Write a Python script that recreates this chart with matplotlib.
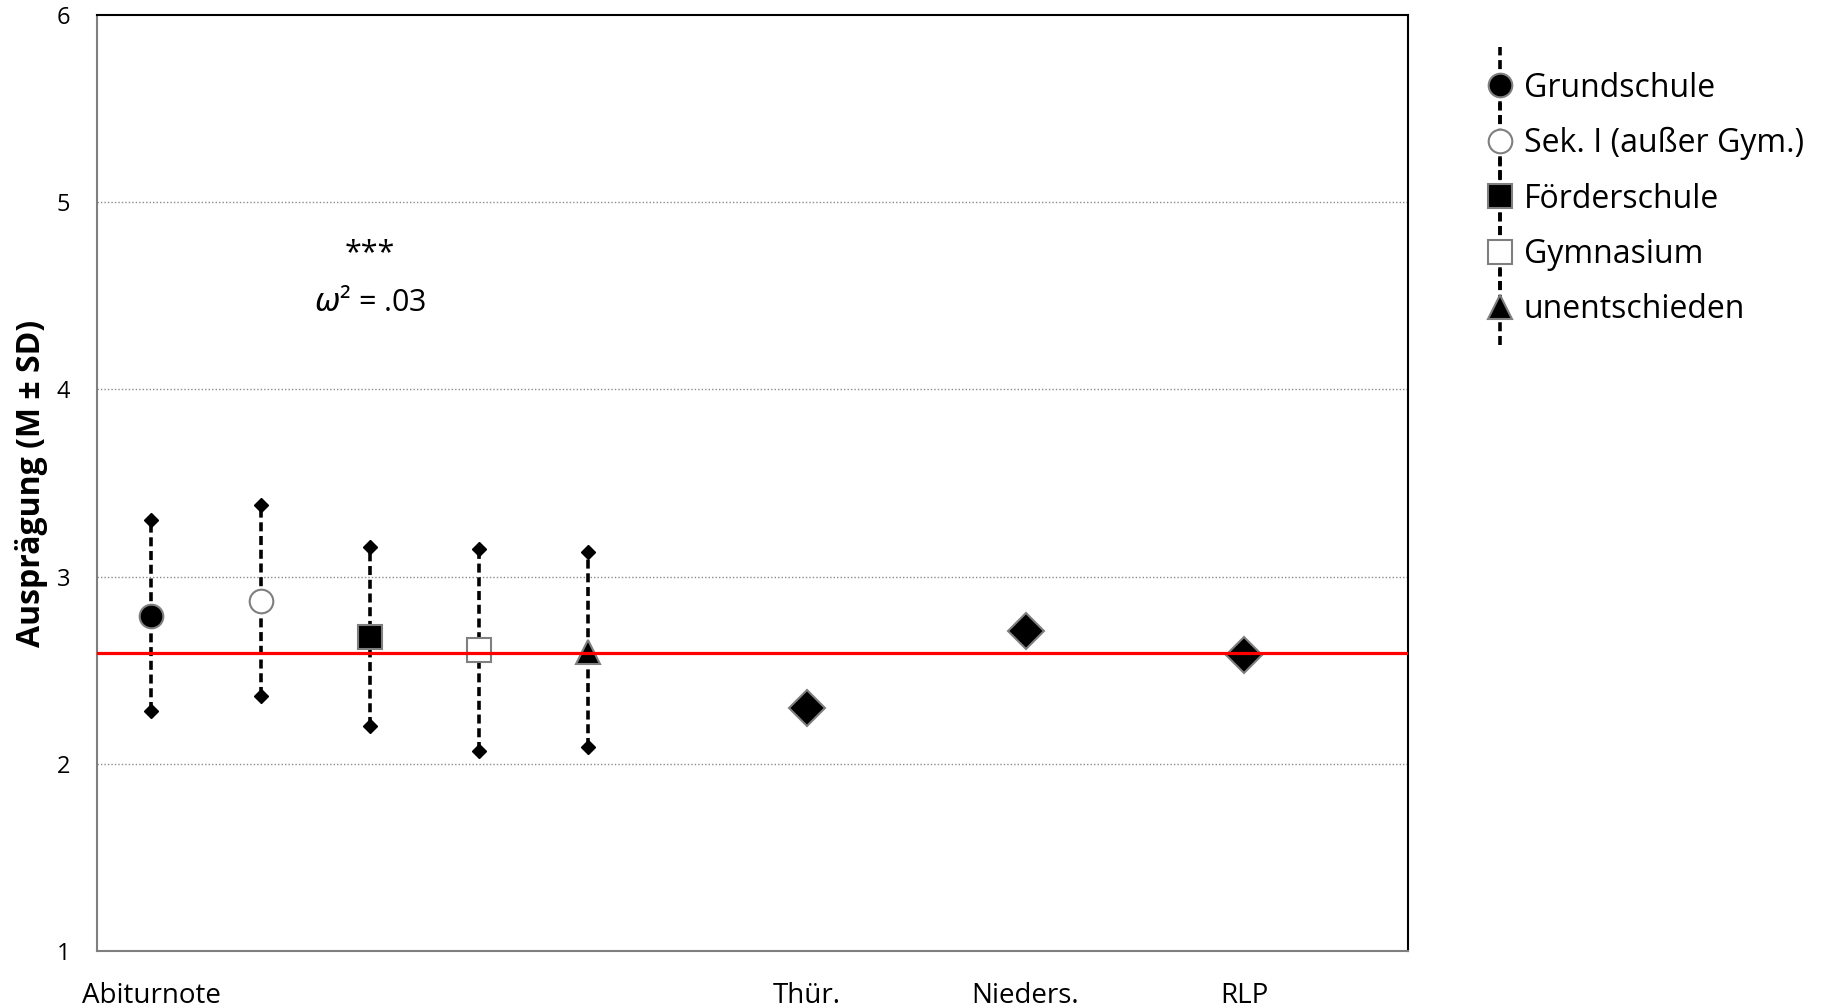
import matplotlib
matplotlib.use("Agg")
import matplotlib.pyplot as plt
from matplotlib.legend_handler import HandlerErrorbar

plt.rcParams['font.family'] = ['Open Sans', 'DejaVu Sans']

# school types (Abiturnote group)
groups = ["Grundschule", "Sek. I (außer Gym.)", "Förderschule", "Gymnasium", "unentschieden"]
group_x = [0.5, 1.5, 2.5, 3.5, 4.5]
group_mean = [2.79, 2.87, 2.68, 2.61, 2.60]
group_upper = [3.30, 3.38, 3.16, 3.15, 3.13]
group_lower = [2.28, 2.36, 2.20, 2.07, 2.09]
group_marker = ["o", "o", "s", "s", "^"]
group_fill = ["black", "white", "black", "white", "black"]

# federal states
states = ["Thür.", "Nieders.", "RLP"]
state_x = [6.5, 8.5, 10.5]
state_mean = [2.30, 2.71, 2.58]

overall_mean = 2.59

xtick_pos = [0.5, 6.5, 8.5, 10.5]
xtick_labels = ["Abiturnote", "Thür.", "Nieders.", "RLP"]

fig = plt.figure(figsize=(18.22, 10.08), dpi=100)
ax = fig.add_axes([0.053, 0.0565, 0.7198, 0.9286])

grey = "#7f7f7f"
for i, name in enumerate(groups):
    m = group_mean[i]
    eb = ax.errorbar(group_x[i], m,
                     yerr=[[m - group_lower[i]], [group_upper[i] - m]],
                     fmt=group_marker[i], ms=17, mfc=group_fill[i], mec=grey, mew=1.5,
                     ecolor="black", elinewidth=2.6, capsize=0, label=name, zorder=4)
    eb[2][0].set_linestyle((0, (2.5, 1.3)))
    ax.plot([group_x[i], group_x[i]], [group_lower[i], group_upper[i]], ls="none",
            marker="D", ms=7.5, color="black", zorder=3)

ax.plot(state_x, state_mean, ls="none", marker="D", ms=18, mfc="black", mec=grey,
        mew=1.5, zorder=4)

ax.axhline(overall_mean, color="red", lw=2.3, zorder=6)

ax.text(2.5, 4.73, "***", ha="center", va="center", fontsize=22)
ax.text(2.5, 4.46, r"$\omega$² = .03", ha="center", va="center", fontsize=22)

ax.set_xlim(0, 12)
ax.set_ylim(1, 6)
ax.set_yticks([1, 2, 3, 4, 5, 6])
ax.set_xticks(xtick_pos)
ax.set_xticklabels(xtick_labels)
ax.tick_params(axis="both", length=0)
ax.tick_params(axis="y", labelsize=17, pad=19)
ax.tick_params(axis="x", labelsize=20, pad=22)
ax.set_ylabel("Ausprägung (M ± SD)", fontsize=23, fontweight="bold", labelpad=6)

for y in [2, 3, 4, 5]:
    ax.axhline(y, color="#8c8c8c", lw=1.0, ls=(0, (1, 1.5)), zorder=1)

ax.spines["left"].set_color(grey)
ax.spines["bottom"].set_color(grey)
ax.spines["top"].set_color("black")
ax.spines["right"].set_color("black")
for s in ax.spines.values():
    s.set_linewidth(1.5)

fig.legend(loc="upper left", bbox_to_anchor=(0.8145, 0.929), frameon=False,
           fontsize=23, handlelength=1.0, handletextpad=0.25, labelspacing=0.7,
           borderpad=0, borderaxespad=0,
           handler_map={type(eb): HandlerErrorbar(yerr_size=1.2)})

fig.savefig("out.png", dpi=100)
